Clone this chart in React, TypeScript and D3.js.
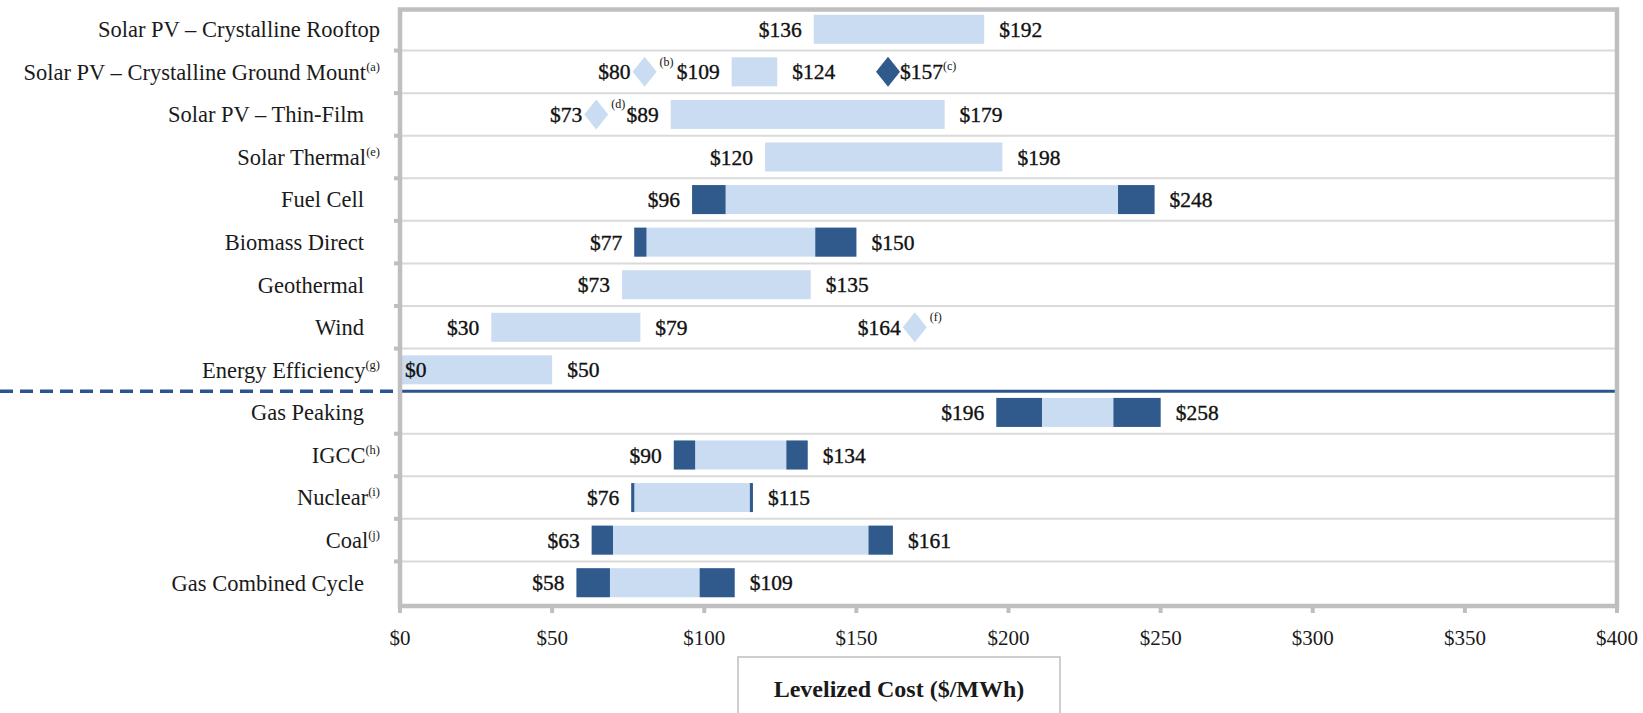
import React from "react";
import * as d3 from "d3";

// rows, top to bottom
const categories = [
  "Solar PV – Crystalline Rooftop",
  "Solar PV – Crystalline Ground Mount",
  "Solar PV – Thin-Film",
  "Solar Thermal",
  "Fuel Cell",
  "Biomass Direct",
  "Geothermal",
  "Wind",
  "Energy Efficiency",
  "Gas Peaking",
  "IGCC",
  "Nuclear",
  "Coal",
  "Gas Combined Cycle",
];
const notes = ["", "(a)", "", "(e)", "", "", "", "", "(g)", "", "(h)", "(i)", "(j)", ""];

// bar extents as drawn
const barStart = [136, 109, 89, 120, 96, 77, 73, 30, 0, 196, 90, 76, 63, 58];
const barEnd = [192, 124, 179, 198, 248, 150, 135, 79, 50, 250, 134, 116, 162, 110];
// dark end segments (null = none)
const darkLowEnd = [null, null, null, null, 107, 81, null, null, null, 211, 97, 77, 70, 69];
const darkHighStart = [null, null, null, null, 236, 136.5, null, null, null, 234.5, 127, 115, 154, 98.5];

const leftLabels = ["$136", "$109", "$89", "$120", "$96", "$77", "$73", "$30", "$0", "$196", "$90", "$76", "$63", "$58"];
const rightLabels = ["$192", "$124", "$179", "$198", "$248", "$150", "$135", "$79", "$50", "$258", "$134", "$115", "$161", "$109"];

// diamond markers
const markerRow = [1, 1, 2, 7];
const markerValue = [80.4, 160.4, 64.5, 169.2];
const markerLabel = ["$80", "$157", "$73", "$164"];
const markerNote = ["(b)", "(c)", "(d)", "(f)"];
const markerDark = [false, true, false, false];

const tickValues = [0, 50, 100, 150, 200, 250, 300, 350, 400];
const axisTitle = "Levelized Cost ($/MWh)";

const LIGHT = "#c9dcf2";
const DARK = "#30598c";
const GRID = "#bfbfbf";
const FONT = "'Liberation Serif', 'Times New Roman', serif";

export default function App() {
  const width = 1643;
  const height = 713;
  const left = 400;
  const right = 1617;
  const top = 8;
  const bottom = 604;

  const x = d3.scaleLinear().domain([0, 400]).range([left, right]);
  const y = d3.scaleBand<string>().domain(categories).range([top, bottom]).padding(0);
  const bw = y.bandwidth();
  const barH = 29;
  const sepIndex = 9; // renewables / conventional split

  return (
    <svg
      width={width}
      height={height}
      style={{ position: "absolute", left: 0, top: 0, background: "#fff" }}
      fontFamily={FONT}
    >
      {/* row separators */}
      {categories.slice(1).map((c, i) => {
        const yy = y(c)!;
        if (i + 1 === sepIndex) return null;
        return (
          <g key={"sep" + c}>
            <line x1={left} x2={right} y1={yy} y2={yy} stroke="#dadada" strokeWidth={2} />
            <line x1={394} x2={399} y1={yy} y2={yy} stroke={GRID} strokeWidth={4} />
          </g>
        );
      })}

      {/* bars */}
      {categories.map((c, i) => {
        const yc = y(c)! + bw / 2;
        const y0 = yc - barH / 2;
        return (
          <g key={"bar" + c}>
            <rect x={x(barStart[i])} y={y0} width={x(barEnd[i]) - x(barStart[i])} height={barH} fill={LIGHT} />
            {darkLowEnd[i] != null && (
              <rect x={x(barStart[i])} y={y0} width={x(darkLowEnd[i] as number) - x(barStart[i])} height={barH} fill={DARK} />
            )}
            {darkHighStart[i] != null && (
              <rect x={x(darkHighStart[i] as number)} y={y0} width={x(barEnd[i]) - x(darkHighStart[i] as number)} height={barH} fill={DARK} />
            )}
          </g>
        );
      })}

      {/* value labels */}
      {categories.map((c, i) => {
        const yc = y(c)! + bw / 2;
        const lx = x(barStart[i]) - 12;
        const inside = lx < left + 20;
        return (
          <g key={"lab" + c} fontSize={21.5} fill="#111" stroke="#111" strokeWidth={0.35}>
            <text
              x={inside ? x(barStart[i]) + 5 : lx}
              y={yc}
              dy="0.35em"
              textAnchor={inside ? "start" : "end"}
            >
              {leftLabels[i]}
            </text>
            <text x={x(barEnd[i]) + 15} y={yc} dy="0.35em">
              {rightLabels[i]}
            </text>
          </g>
        );
      })}

      {/* diamond markers */}
      {markerRow.map((r, k) => {
        const yc = y(categories[r])! + bw / 2;
        const cx = x(markerValue[k]);
        const hw = 12;
        const hh = 15;
        const path = `M${cx},${yc - hh}L${cx + hw},${yc}L${cx},${yc + hh}L${cx - hw},${yc}Z`;
        return (
          <g key={"m" + k} fontSize={21.5} fill="#111">
            <path d={path} fill={markerDark[k] ? DARK : LIGHT} />
            {markerDark[k] ? (
              <text x={cx + hw} y={yc} dy="0.35em" stroke="#111" strokeWidth={0.35}>
                {markerLabel[k]}
                <tspan fontSize={12} dy={-9} strokeWidth={0}>{markerNote[k]}</tspan>
              </text>
            ) : (
              <>
                <text x={cx - hw - 2} y={yc} dy="0.35em" textAnchor="end" stroke="#111" strokeWidth={0.35}>
                  {markerLabel[k]}
                </text>
                <text x={cx + hw + 3} y={yc - 6} fontSize={12}>
                  {markerNote[k]}
                </text>
              </>
            )}
          </g>
        );
      })}

      {/* category labels */}
      {categories.map((c, i) => {
        const yc = y(c)! + bw / 2;
        const ax = notes[i] || i === 0 ? 380 : 364;
        return (
          <text key={"cat" + c} x={ax} y={yc} dy="0.35em" textAnchor="end" fontSize={22.5} fill="#1a1a1a">
            {c}
            {notes[i] && (
              <tspan fontSize={12.5} dy={-9}>
                {notes[i]}
              </tspan>
            )}
          </text>
        );
      })}

      {/* renewables / conventional divider */}
      {(() => {
        const yy = y(categories[sepIndex])!;
        return (
          <g>
            <line x1={0} x2={left} y1={yy} y2={yy} stroke="#2a5591" strokeWidth={3.5} strokeDasharray="13 7" />
            <line x1={left} x2={right} y1={yy} y2={yy} stroke="#2a5591" strokeWidth={3} />
          </g>
        );
      })()}

      {/* frame */}
      <rect x={left} y={9.5} width={right - left} height={606 - 9.5} fill="none" stroke={GRID} strokeWidth={4.5} />

      {/* x axis ticks and labels */}
      {tickValues.map((t) => (
        <g key={"t" + t}>
          <line x1={x(t)} x2={x(t)} y1={606} y2={613} stroke={GRID} strokeWidth={4} />
          <text x={x(t)} y={645} textAnchor="middle" fontSize={21} fill="#1a1a1a">
            {"$" + t}
          </text>
        </g>
      ))}

      {/* axis title box */}
      <rect x={738} y={657} width={322} height={70} fill="#fff" stroke={GRID} strokeWidth={1.5} />
      <text x={899} y={697} textAnchor="middle" fontSize={24} fontWeight="bold" fill="#1a1a1a">
        {axisTitle}
      </text>
    </svg>
  );
}
